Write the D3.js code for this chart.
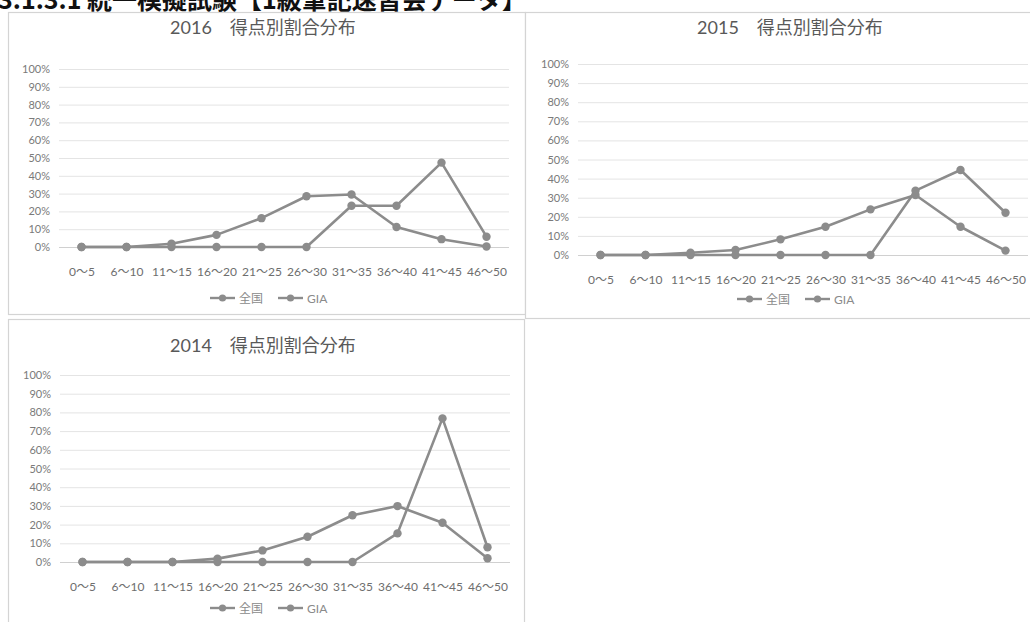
<!DOCTYPE html>
<html><head><meta charset="utf-8">
<script src="https://cdn.jsdelivr.net/npm/d3@7"></script>
<style>
html,body{margin:0;padding:0;background:#fff;overflow:hidden}
svg{display:block}
</style></head>
<body>
<svg id="c" width="1030" height="622"></svg>
<script>
// ---- data ----
const categories = ["0～5","6～10","11～15","16～20","21～25","26～30","31～35","36～40","41～45","46～50"];
const yTickValues = [0,0.1,0.2,0.3,0.4,0.5,0.6,0.7,0.8,0.9,1.0];
const seriesNames = ["全国","GIA"];
const titles = ["2016　得点別割合分布","2015　得点別割合分布","2014　得点別割合分布"];
const national2016 = [0,0,0.018,0.068,0.162,0.285,0.295,0.112,0.044,0.003];
const gia2016      = [0,0,0,0,0,0,0.232,0.232,0.474,0.058];
const national2015 = [0,0,0.012,0.026,0.082,0.148,0.239,0.314,0.148,0.023];
const gia2015      = [0,0,0,0,0,0,0,0.337,0.445,0.221];
const national2014 = [0,0,0,0.018,0.062,0.135,0.25,0.299,0.21,0.02];
const gia2014      = [0,0,0,0,0,0,0,0.153,0.768,0.079];
const headerText = "3.1.3.1 統一模擬試験【1級筆記速習会データ】";

// ---- layout ----
const panels = [
  {title: titles[0], series:[national2016, gia2016], box:[8.5,12.5,517,302], gx:[59,509], gy:[247,69], tx:263, ty:34, lx:210, ly:298},
  {title: titles[1], series:[national2015, gia2015], box:[525.5,12.5,520,306], gx:[578,1028], gy:[255,64], tx:790, ty:34, lx:737, ly:299},
  {title: titles[2], series:[national2014, gia2014], box:[8.5,319.5,516,320], gx:[60,510], gy:[562,375], tx:263, ty:352, lx:210, ly:608}
];

const svg = d3.select("#c");
const LINE = "#8c8c8c";
const FONT = "Lato, 'Noto Sans CJK JP', sans-serif";

svg.append("text").attr("x",-2).attr("y",9)
  .attr("font-family","'Noto Sans CJK JP', sans-serif").attr("font-weight","bold")
  .attr("font-size",25).attr("fill","#111").text(headerText);

panels.forEach((p,pi)=>{
  const g = svg.append("g");
  g.append("rect").attr("x",p.box[0]).attr("y",p.box[1]).attr("width",p.box[2]).attr("height",p.box[3])
    .attr("fill","#fff").attr("stroke","#d4d4d4").attr("stroke-width",1.2);
  g.append("text").attr("x",p.tx).attr("y",p.ty).attr("text-anchor","middle")
    .attr("font-family",FONT).attr("font-size",18).attr("fill","#595959").text(p.title);

  const x = d3.scalePoint().domain(categories).range(p.gx).padding(0.5);
  const y = d3.scaleLinear().domain([0,1]).range(p.gy);

  // gridlines
  g.append("g").selectAll("line").data(yTickValues).join("line")
    .attr("x1",p.gx[0]).attr("x2",p.gx[1]).attr("y1",d=>y(d)+0.5).attr("y2",d=>y(d)+0.5)
    .attr("stroke",d=>d===0?"#d0d0d0":"#e4e4e4").attr("stroke-width",1);

  // y axis labels
  const ya = g.append("g").attr("transform",`translate(${p.gx[0]-4},0)`)
    .call(d3.axisLeft(y).tickValues(yTickValues).tickFormat(d3.format(".0%")).tickSize(0).tickPadding(5));
  ya.select(".domain").remove();
  ya.selectAll("text").attr("font-family",FONT).attr("font-size",11).attr("fill","#7a7a7a");

  // x axis labels
  const xa = g.append("g").attr("transform",`translate(0,${p.gy[0]})`)
    .call(d3.axisBottom(x).tickSize(0).tickPadding(20));
  xa.select(".domain").remove();
  xa.selectAll("text").attr("font-family",FONT).attr("font-size",12).attr("fill","#6e6e6e");

  // series
  const line = d3.line().x((d,i)=>x(categories[i])).y(d=>y(d));
  p.series.forEach((s,si)=>{
    g.append("path").datum(s).attr("d",line).attr("fill","none")
      .attr("stroke",LINE).attr("stroke-width",2.6).attr("stroke-linejoin","round");
    g.append("g").selectAll("circle").data(s).join("circle")
      .attr("cx",(d,i)=>x(categories[i])).attr("cy",d=>y(d)).attr("r",4.2).attr("fill",LINE);
  });

  // legend
  const lg = g.append("g").attr("transform",`translate(${p.lx},${p.ly})`);
  seriesNames.forEach((n,i)=>{
    const ox = i*68;
    lg.append("line").attr("x1",ox).attr("x2",ox+25).attr("y1",0).attr("y2",0).attr("stroke",LINE).attr("stroke-width",2.4);
    lg.append("circle").attr("cx",ox+12.5).attr("cy",0).attr("r",3.6).attr("fill",LINE);
    lg.append("text").attr("x",ox+29).attr("y",4.5).attr("font-family",FONT).attr("font-size",12).attr("fill","#8a8a8a").text(n);
  });
});
</script>
</body></html>
